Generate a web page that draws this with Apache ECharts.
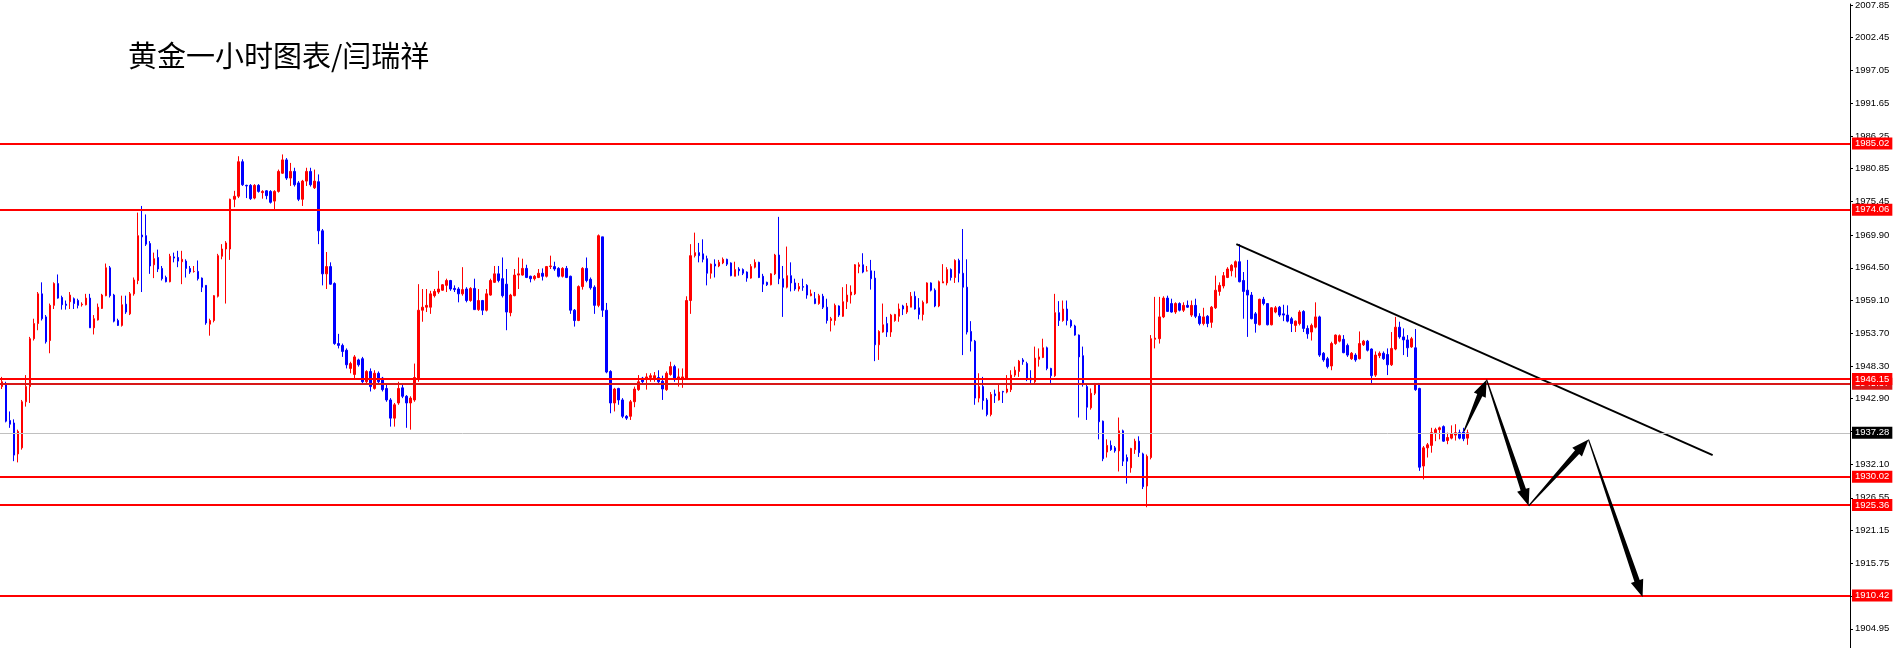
<!DOCTYPE html>
<html>
<head>
<meta charset="utf-8">
<script src="https://cdn.jsdelivr.net/npm/echarts@6.0.0/dist/echarts.min.js"></script>
<style>
html,body{margin:0;padding:0;background:#fff;}
#chart{width:1895px;height:648px;}
</style>
</head>
<body>
<div id="chart"></div>
<script>
// Title
const titleText = '黄金一小时图表/闫瑞祥';

// Hourly candles, each row: [open, close, low, high]
const ohlc = [
[1944.9,1945.7,1944.5,1946.5],[1945.4,1939.2,1939.0,1945.7],[1939.3,1938.7,1938.1,1940.8],[1938.9,1933.6,1932.6,1939.5],
[1933.8,1937.5,1932.4,1937.8],[1934.8,1942.4,1934.5,1942.7],[1942.4,1944.9,1941.6,1946.8],[1944.9,1952.8,1942.2,1953.1],
[1952.8,1955.3,1952.5,1956.1],[1955.3,1960.2,1954.2,1960.5],[1960.2,1956.1,1955.8,1962.1],[1956.4,1952.3,1952.0,1956.7],
[1952.5,1958.3,1950.4,1958.6],[1958.3,1961.9,1957.7,1962.1],[1961.9,1959.5,1959.4,1963.4],[1959.6,1958.4,1957.6,1959.9],
[1958.5,1958.3,1957.6,1959.1],[1958.9,1960.0,1957.7,1960.5],[1959.4,1958.6,1957.7,1959.6],[1959.1,1958.3,1957.8,1959.4],
[1958.4,1958.5,1958.1,1958.8],[1958.4,1959.5,1958.3,1960.2],[1959.5,1954.6,1954.6,1960.2],[1954.6,1956.1,1953.5,1956.7],
[1955.9,1958.0,1955.8,1958.6],[1957.8,1960.0,1957.7,1960.2],[1959.9,1964.5,1959.8,1965.2],[1964.5,1959.9,1959.6,1964.8],
[1960.0,1955.7,1955.5,1960.2],[1955.8,1955.0,1954.9,1956.1],[1955.0,1958.4,1954.8,1959.9],[1958.5,1957.2,1956.9,1959.9],
[1956.9,1960.2,1956.7,1960.5],[1960.2,1962.5,1959.9,1962.9],[1962.4,1969.8,1961.8,1973.6],[1969.9,1969.6,1960.5,1974.7],
[1969.8,1968.4,1968.1,1973.3],[1968.5,1964.8,1963.5,1968.9],[1965.0,1966.0,1962.8,1967.0],[1966.2,1964.3,1963.8,1967.5],
[1964.4,1962.7,1962.4,1964.8],[1962.9,1962.2,1962.1,1963.2],[1962.2,1966.4,1962.1,1966.8],[1966.3,1966.1,1965.4,1967.0],
[1966.2,1965.6,1964.6,1967.3],[1965.5,1965.9,1961.8,1967.3],[1965.6,1964.4,1962.9,1965.9],[1964.4,1963.8,1963.5,1964.8],
[1963.9,1963.9,1963.7,1964.8],[1963.9,1962.7,1962.4,1965.7],[1962.8,1961.3,1960.5,1962.9],[1961.6,1955.4,1955.1,1961.6],
[1955.2,1955.8,1953.3,1956.1],[1955.8,1959.9,1955.5,1960.0],[1959.8,1966.5,1959.6,1966.8],[1966.4,1967.6,1965.9,1968.4],
[1967.6,1968.6,1958.6,1968.9],[1967.6,1975.8,1965.8,1975.9],[1975.8,1976.3,1974.5,1977.2],[1976.3,1982.0,1976.0,1982.9],
[1982.0,1978.2,1978.0,1982.4],[1978.1,1978.0,1976.0,1978.2],[1978.1,1975.9,1975.7,1978.3],[1976.0,1978.1,1975.8,1978.3],
[1978.1,1977.1,1976.9,1978.3],[1976.9,1977.1,1975.9,1977.3],[1977.2,1976.4,1975.8,1977.3],[1977.1,1975.3,1975.1,1977.3],
[1975.5,1977.1,1973.9,1977.3],[1977.1,1980.4,1976.9,1980.7],[1980.1,1982.3,1980.0,1983.2],[1982.3,1979.3,1979.0,1982.6],
[1979.3,1980.4,1978.0,1981.8],[1980.4,1978.2,1977.9,1981.0],[1978.5,1975.8,1975.5,1978.8],[1975.8,1978.8,1974.7,1979.0],
[1978.8,1980.4,1978.0,1981.0],[1980.4,1978.2,1977.9,1981.0],[1977.7,1978.8,1977.5,1980.7],[1978.7,1970.6,1968.4,1979.9],
[1970.6,1963.5,1961.6,1970.9],[1963.5,1964.7,1961.0,1967.1],[1964.7,1961.8,1961.7,1965.4],[1961.9,1952.0,1951.8,1962.1],
[1952.0,1951.7,1951.2,1953.6],[1951.7,1950.7,1949.8,1952.0],[1950.9,1948.5,1947.9,1951.2],[1947.9,1948.7,1947.1,1949.0],
[1946.9,1949.8,1946.3,1950.1],[1949.3,1948.5,1948.2,1949.5],[1949.5,1945.7,1945.5,1949.8],[1945.7,1947.4,1945.2,1947.6],
[1947.4,1944.9,1944.1,1947.9],[1944.6,1947.1,1944.4,1947.6],[1947.1,1945.7,1945.2,1947.4],[1946.3,1944.4,1944.1,1946.5],
[1944.6,1942.7,1942.4,1945.2],[1942.7,1939.7,1938.3,1943.0],[1939.7,1941.9,1938.3,1942.2],[1942.2,1944.6,1941.9,1945.7],
[1944.7,1943.3,1943.0,1945.2],[1943.3,1942.2,1938.1,1943.5],[1942.2,1943.0,1937.8,1943.3],[1942.7,1946.4,1942.4,1948.7],
[1946.3,1957.5,1945.7,1961.8],[1957.5,1958.0,1955.6,1961.0],[1958.0,1958.3,1957.2,1961.0],[1958.0,1960.2,1956.9,1960.7],
[1959.9,1960.6,1959.6,1961.0],[1960.5,1961.0,1960.2,1964.0],[1960.8,1961.7,1960.7,1961.8],[1961.6,1962.4,1960.5,1962.7],
[1962.4,1961.0,1960.7,1962.5],[1961.1,1960.9,1960.5,1961.6],[1961.0,1960.2,1958.8,1961.3],[1960.2,1960.9,1959.9,1964.6],
[1961.0,1959.1,1958.8,1961.3],[1959.1,1961.1,1958.9,1961.3],[1961.1,1957.6,1957.6,1962.7],[1957.6,1959.1,1957.4,1961.0],
[1959.1,1957.5,1956.7,1959.2],[1957.5,1960.2,1957.3,1961.0],[1960.0,1962.4,1959.9,1962.7],[1962.1,1963.5,1962.0,1964.8],
[1963.5,1962.4,1962.1,1964.8],[1962.7,1959.9,1959.6,1966.2],[1961.8,1957.2,1954.2,1964.3],[1957.1,1960.0,1956.5,1960.2],
[1959.9,1963.3,1959.8,1964.3],[1963.3,1963.5,1961.0,1966.2],[1963.3,1964.4,1963.2,1966.0],[1964.4,1962.9,1962.8,1965.0],
[1963.1,1962.7,1962.1,1963.2],[1962.7,1963.1,1962.4,1963.3],[1962.9,1963.6,1962.8,1964.3],[1963.6,1963.1,1962.4,1964.4],
[1963.1,1964.7,1962.9,1964.8],[1964.7,1964.8,1964.3,1966.5],[1964.7,1964.3,1964.0,1965.5],[1964.4,1963.1,1962.9,1964.6],
[1963.1,1964.4,1962.9,1964.6],[1964.4,1962.9,1962.8,1964.8],[1963.1,1957.5,1956.9,1963.2],[1957.5,1955.8,1954.8,1957.7],
[1955.8,1961.4,1955.7,1961.6],[1961.4,1964.4,1960.9,1964.6],[1964.4,1962.4,1962.1,1966.2],[1962.6,1961.2,1960.9,1962.9],
[1961.3,1958.3,1956.9,1961.6],[1958.3,1969.8,1958.0,1970.0],[1969.6,1957.5,1956.4,1969.6],[1957.5,1947.3,1947.1,1958.7],
[1947.4,1942.2,1940.5,1947.6],[1942.2,1944.5,1940.8,1944.7],[1944.6,1942.7,1941.9,1944.7],[1942.7,1940.0,1939.7,1943.0],
[1940.0,1939.7,1939.4,1940.2],[1940.0,1942.4,1939.4,1942.7],[1942.4,1944.5,1941.5,1944.9],[1944.4,1945.7,1944.2,1946.8],
[1946.3,1945.7,1945.5,1946.5],[1946.2,1946.5,1944.4,1947.1],[1946.4,1946.7,1945.7,1947.1],[1946.3,1946.7,1945.7,1947.3],
[1946.4,1945.7,1945.5,1947.6],[1945.8,1944.5,1942.7,1946.7],[1944.4,1947.1,1944.2,1947.4],[1946.9,1948.2,1946.7,1949.0],
[1948.2,1946.3,1945.7,1948.5],[1946.3,1946.5,1944.9,1947.9],[1946.2,1946.5,1944.7,1947.9],[1946.2,1959.1,1946.0,1959.8],
[1959.1,1966.5,1956.9,1968.4],[1966.5,1967.0,1966.2,1970.3],[1967.0,1966.5,1965.4,1968.6],[1966.8,1965.9,1965.4,1969.2],
[1966.0,1963.6,1961.6,1966.5],[1963.6,1965.1,1962.7,1965.2],[1965.1,1964.8,1962.9,1965.9],[1964.8,1965.4,1964.6,1965.8],
[1965.3,1965.9,1965.1,1966.2],[1965.9,1965.1,1964.8,1966.0],[1965.3,1963.2,1963.1,1965.4],[1963.1,1964.2,1963.1,1965.5],
[1964.3,1964.0,1963.2,1964.6],[1964.2,1963.6,1963.3,1964.4],[1963.8,1962.8,1962.2,1963.9],[1962.8,1964.7,1962.7,1965.1],
[1964.6,1965.4,1964.4,1965.9],[1965.4,1962.9,1962.8,1965.5],[1963.1,1961.8,1960.5,1963.5],[1962.1,1961.7,1961.5,1962.2],
[1961.7,1963.5,1961.6,1963.6],[1963.5,1966.6,1963.3,1966.8],[1966.6,1962.7,1961.8,1972.9],[1962.7,1961.3,1956.4,1964.8],
[1961.3,1963.2,1961.1,1968.0],[1963.2,1962.0,1960.6,1965.4],[1962.0,1961.0,1960.7,1962.7],[1961.0,1961.4,1960.6,1962.0],
[1961.4,1961.3,1960.7,1962.7],[1961.6,1960.0,1959.4,1961.8],[1959.9,1960.2,1959.8,1960.9],[1959.4,1958.6,1958.5,1960.5],
[1958.6,1959.9,1958.4,1960.2],[1959.8,1958.0,1957.7,1960.2],[1958.0,1955.8,1955.3,1959.4],[1955.8,1956.1,1954.0,1956.4],
[1955.8,1958.3,1955.0,1958.6],[1958.2,1956.7,1956.4,1958.3],[1956.5,1958.9,1956.4,1961.3],[1958.9,1960.0,1957.7,1961.8],
[1960.0,1960.5,1958.6,1961.6],[1960.2,1965.0,1960.0,1965.1],[1964.7,1965.0,1963.6,1965.4],[1965.0,1963.8,1963.6,1966.9],
[1964.0,1964.0,1963.9,1964.8],[1964.0,1962.7,1960.9,1965.8],[1962.8,1951.8,1949.1,1964.0],[1951.8,1954.0,1949.3,1954.2],
[1953.9,1955.1,1953.8,1958.6],[1955.3,1953.9,1953.1,1956.4],[1953.9,1956.7,1953.1,1956.9],[1955.8,1956.8,1955.6,1956.9],
[1956.5,1957.7,1955.6,1958.6],[1958.2,1957.7,1956.7,1958.4],[1957.2,1958.2,1956.9,1958.7],[1958.0,1959.8,1958.0,1960.5],
[1959.8,1957.7,1957.6,1960.6],[1957.9,1956.8,1956.0,1959.5],[1956.8,1958.8,1955.8,1959.1],[1958.7,1962.0,1958.6,1962.1],
[1962.0,1960.8,1960.6,1962.1],[1960.8,1958.2,1958.0,1961.1],[1958.2,1962.2,1958.0,1962.4],[1962.0,1962.2,1962.0,1965.1],
[1962.0,1964.2,1961.6,1964.6],[1964.2,1962.9,1962.4,1964.4],[1962.9,1965.7,1962.0,1965.9],[1965.7,1963.6,1962.1,1966.0],
[1963.6,1961.3,1950.1,1970.9],[1961.3,1953.9,1953.5,1965.9],[1954.0,1952.4,1950.7,1955.7],[1952.4,1943.0,1941.9,1952.6],
[1943.0,1944.9,1942.3,1947.1],[1944.9,1942.6,1941.1,1946.5],[1942.7,1940.3,1940.0,1943.0],[1940.3,1943.6,1940.0,1944.0],
[1943.7,1943.4,1942.2,1944.4],[1942.7,1944.0,1942.6,1945.2],[1944.1,1944.0,1942.2,1944.2],[1944.0,1944.5,1943.8,1946.8],
[1944.4,1946.8,1944.0,1947.6],[1946.8,1947.6,1946.5,1948.2],[1947.4,1949.1,1946.5,1949.3],[1949.3,1949.0,1948.5,1949.6],
[1948.7,1946.3,1945.8,1949.0],[1946.3,1946.0,1945.5,1947.6],[1945.7,1949.6,1945.2,1951.5],[1949.4,1949.8,1948.2,1951.2],
[1949.7,1951.3,1949.6,1952.8],[1951.3,1947.9,1947.6,1951.5],[1947.9,1946.7,1945.5,1948.0],[1946.7,1957.1,1946.5,1960.2],
[1957.1,1955.8,1954.9,1959.0],[1955.8,1957.7,1955.6,1959.1],[1957.7,1955.8,1955.0,1959.1],[1955.8,1954.9,1954.6,1956.0],
[1954.9,1953.4,1953.3,1955.1],[1953.4,1949.8,1939.8,1953.5],[1950.0,1945.3,1944.9,1951.5],[1944.9,1941.5,1939.4,1945.2],
[1941.4,1943.8,1941.1,1944.6],[1943.8,1945.3,1943.5,1945.5],[1945.3,1939.1,1936.2,1945.5],[1939.2,1933.0,1932.6,1939.3],
[1934.1,1935.2,1933.2,1936.2],[1935.2,1934.5,1934.3,1936.0],[1934.8,1934.3,1934.0,1935.1],[1934.3,1937.6,1930.9,1939.8],
[1937.6,1932.6,1931.8,1937.8],[1933.2,1932.6,1928.9,1933.7],[1931.5,1934.7,1930.7,1934.8],[1934.5,1935.9,1933.8,1936.3],
[1935.9,1934.0,1933.3,1936.7],[1933.8,1928.4,1928.0,1934.0],[1928.5,1933.4,1925.0,1933.7],[1933.2,1952.8,1932.9,1953.4],
[1952.7,1952.9,1951.2,1959.7],[1952.8,1956.4,1952.0,1959.7],[1956.4,1959.5,1956.2,1959.8],[1959.5,1957.3,1957.2,1959.9],
[1958.6,1957.2,1957.1,1959.4],[1957.2,1958.6,1956.9,1958.8],[1958.6,1957.5,1957.3,1958.8],[1957.5,1958.3,1957.2,1958.8],
[1958.3,1958.0,1957.9,1959.1],[1956.7,1958.3,1956.4,1959.1],[1958.3,1956.5,1956.2,1959.4],[1956.5,1955.3,1955.0,1957.0],
[1955.3,1956.4,1955.0,1957.9],[1956.5,1955.3,1954.7,1956.7],[1955.5,1958.0,1954.6,1958.2],[1957.9,1960.8,1957.7,1963.2],
[1960.6,1961.6,1959.9,1962.1],[1961.5,1963.2,1961.1,1963.8],[1962.9,1964.3,1962.8,1964.6],[1964.0,1964.9,1963.1,1965.1],
[1964.6,1965.5,1962.9,1965.7],[1965.5,1962.2,1962.1,1968.4],[1962.4,1960.6,1956.1,1963.8],[1960.8,1960.0,1953.1,1965.8],
[1960.0,1956.1,1956.0,1960.5],[1956.9,1955.3,1953.8,1957.2],[1955.1,1959.3,1955.0,1959.4],[1959.3,1958.6,1958.3,1959.7],
[1958.6,1955.1,1955.0,1958.6],[1955.1,1957.9,1955.0,1958.0],[1957.2,1957.9,1957.0,1958.2],[1958.0,1956.7,1956.4,1958.2],
[1956.9,1956.7,1955.7,1958.4],[1956.7,1955.7,1955.5,1958.3],[1956.1,1955.3,1953.9,1956.4],[1955.0,1955.7,1953.9,1955.8],
[1955.3,1957.2,1955.0,1957.5],[1957.3,1954.5,1953.9,1957.5],[1954.5,1953.6,1952.8,1955.0],[1953.9,1955.0,1952.5,1955.3],
[1954.7,1956.4,1954.5,1958.8],[1956.4,1950.1,1949.8,1956.6],[1950.4,1949.3,1949.0,1950.6],[1949.5,1948.2,1947.9,1949.8],
[1948.3,1952.0,1947.6,1952.3],[1952.0,1953.4,1951.8,1953.5],[1952.4,1953.3,1952.2,1953.5],[1952.7,1950.5,1950.4,1953.4],
[1951.7,1950.1,1949.8,1952.0],[1949.5,1950.4,1949.3,1950.6],[1950.1,1949.3,1949.0,1950.4],[1949.5,1952.0,1949.4,1954.0],
[1951.8,1952.4,1951.6,1952.6],[1952.4,1950.9,1950.7,1952.6],[1951.1,1946.7,1945.2,1951.2],[1946.8,1950.1,1946.5,1950.7],
[1950.0,1950.4,1949.6,1950.7],[1950.4,1949.5,1949.3,1950.7],[1950.2,1948.5,1946.8,1951.2],[1948.5,1951.2,1948.3,1953.9],
[1951.1,1954.7,1950.9,1956.4],[1954.7,1953.1,1952.8,1955.6],[1953.1,1952.6,1950.1,1954.5],[1952.6,1951.3,1949.8,1953.4],
[1951.45,1952.8,1951.3,1953.1],[1951.3,1944.4,1944.2,1954.4],[1944.6,1931.6,1931.0,1944.7],[1931.8,1934.8,1929.6,1935.1],
[1934.8,1935.3,1933.2,1935.6],[1935.2,1937.3,1934.0,1938.1],[1937.3,1937.8,1935.9,1938.1],[1937.8,1938.1,1936.2,1938.3],
[1938.3,1935.9,1935.8,1938.5],[1936.0,1936.5,1935.4,1937.3],[1936.4,1937.1,1936.2,1938.5],[1936.9,1937.3,1936.0,1938.7],
[1937.3,1936.4,1936.2,1937.8],[1937.4,1936.3,1935.9,1938.1],[1936.4,1937.28,1935.3,1937.8]
];

// Number of bar slots visible across the chart (empty future space on the right)
const slotCount = 462;

// Horizontal support/resistance levels
const levels = [1985.02, 1974.06, 1945.37, 1946.15, 1930.02, 1925.36, 1910.42];
const currentPrice = 1937.28;

// Price axis tick labels
const tickValues = [2007.85, 2002.45, 1997.05, 1991.65, 1986.25, 1980.85, 1975.45, 1969.90, 1964.50, 1959.10,
  1953.70, 1948.30, 1942.90, 1937.50, 1932.10, 1926.55, 1921.15, 1915.75, 1910.35, 1904.95];
const priceMin = 1901.78, priceMax = 2008.01;

// Downward trend line: [barIndex, price]
const trendLine = [[308.25, 1968.39], [427.2, 1933.59]];

// Projected-path arrows: [fromBar, fromPrice, toBar, toPrice]
const arrows = [
  [365.1, 1937.52, 370.75, 1946.05],
  [370.75, 1946.05, 381.25, 1925.23],
  [381.25, 1925.23, 396.2, 1936.16],
  [396.2, 1936.16, 409.7, 1910.2]
];

const categories = Array.from({length: slotCount}, (_, k) => k);
const RED = '#ff0000', BLUE = '#0000ff';

function levelItem(v) {
  const col = (v === 1945.37) ? '#d81818' : RED;
  return {
    yAxis: v,
    lineStyle: {color: col, width: 2, type: 'solid'},
    label: {
      show: true, position: 'end', distance: 2,
      formatter: v.toFixed(2),
      color: '#fff', backgroundColor: col,
      padding: [2, 3, 1, 3], fontSize: 9.5, lineHeight: 9,
      fontFamily: 'Liberation Sans'
    }
  };
}

function renderArrow(params, api) {
  const a = api.coord([api.value(0), api.value(1)]);
  const b = api.coord([api.value(2), api.value(3)]);
  const dx = b[0] - a[0], dy = b[1] - a[1];
  const len = Math.hypot(dx, dy);
  const ux = dx / len, uy = dy / len, nx = -uy, ny = ux;
  const hl = 17, hw = 6.5, sw0 = 0.6, sw1 = 2.8;
  const bx = b[0] - ux * hl, by = b[1] - uy * hl;
  const pts = [
    [a[0] + nx * sw0, a[1] + ny * sw0],
    [bx + nx * sw1, by + ny * sw1],
    [bx + nx * hw, by + ny * hw],
    [b[0], b[1]],
    [bx - nx * hw, by - ny * hw],
    [bx - nx * sw1, by - ny * sw1],
    [a[0] - nx * sw0, a[1] - ny * sw0]
  ];
  return {type: 'polygon', shape: {points: pts}, style: {fill: '#000'}};
}

const chart = echarts.init(document.getElementById('chart'), null, {renderer: 'canvas'});
chart.setOption({
  animation: false,
  backgroundColor: '#fff',
  title: {
    text: titleText, left: 128, top: 41, padding: 0,
    textStyle: {fontSize: 29, fontWeight: 'normal', color: '#000', fontFamily: 'Noto Sans CJK SC'}
  },
  grid: {left: 0, right: 45, top: 0, bottom: 0},
  xAxis: [
    {type: 'category', data: categories, boundaryGap: true, show: false},
    {type: 'value', min: -0.5, max: slotCount - 0.5, show: false}
  ],
  yAxis: {
    type: 'value', position: 'right', min: priceMin, max: priceMax, scale: true,
    splitLine: {show: false},
    axisLine: {show: true, onZero: false, lineStyle: {color: '#000', width: 1}},
    axisTick: {show: true, customValues: tickValues, length: 3, lineStyle: {color: '#000'}},
    axisLabel: {
      show: true, customValues: tickValues, margin: 5,
      formatter: v => Number(v).toFixed(2),
      color: '#000', fontSize: 9.5, fontFamily: 'Liberation Sans'
    }
  },
  series: [
    {
      type: 'line', xAxisIndex: 0, data: [], silent: true, z: 1,
      markLine: {
        silent: true, symbol: 'none', animation: false,
        data: [{
          yAxis: currentPrice,
          lineStyle: {color: '#c0c0c0', width: 1, type: 'solid'},
          label: {show: true, position: 'end', distance: 2, formatter: currentPrice.toFixed(2),
            color: '#fff', backgroundColor: '#000', padding: [2, 3, 1, 3], fontSize: 9.5, lineHeight: 9,
            fontFamily: 'Liberation Sans'}
        }]
      }
    },
    {
      type: 'candlestick', xAxisIndex: 0, data: ohlc, barWidth: 2, z: 2,
      itemStyle: {color: RED, color0: BLUE, borderColor: RED, borderColor0: BLUE, borderWidth: 1}
    },
    {
      type: 'line', xAxisIndex: 0, data: [], silent: true, z: 3,
      markLine: {silent: true, symbol: 'none', animation: false, data: levels.map(levelItem)}
    },
    {
      type: 'line', xAxisIndex: 1, data: trendLine, symbol: 'none', silent: true, z: 4,
      lineStyle: {color: '#000', width: 2}
    },
    {
      type: 'custom', xAxisIndex: 1, data: arrows, renderItem: renderArrow, silent: true, z: 5,
      encode: {x: [0, 2], y: [1, 3]}
    }
  ]
});
</script>
</body>
</html>
